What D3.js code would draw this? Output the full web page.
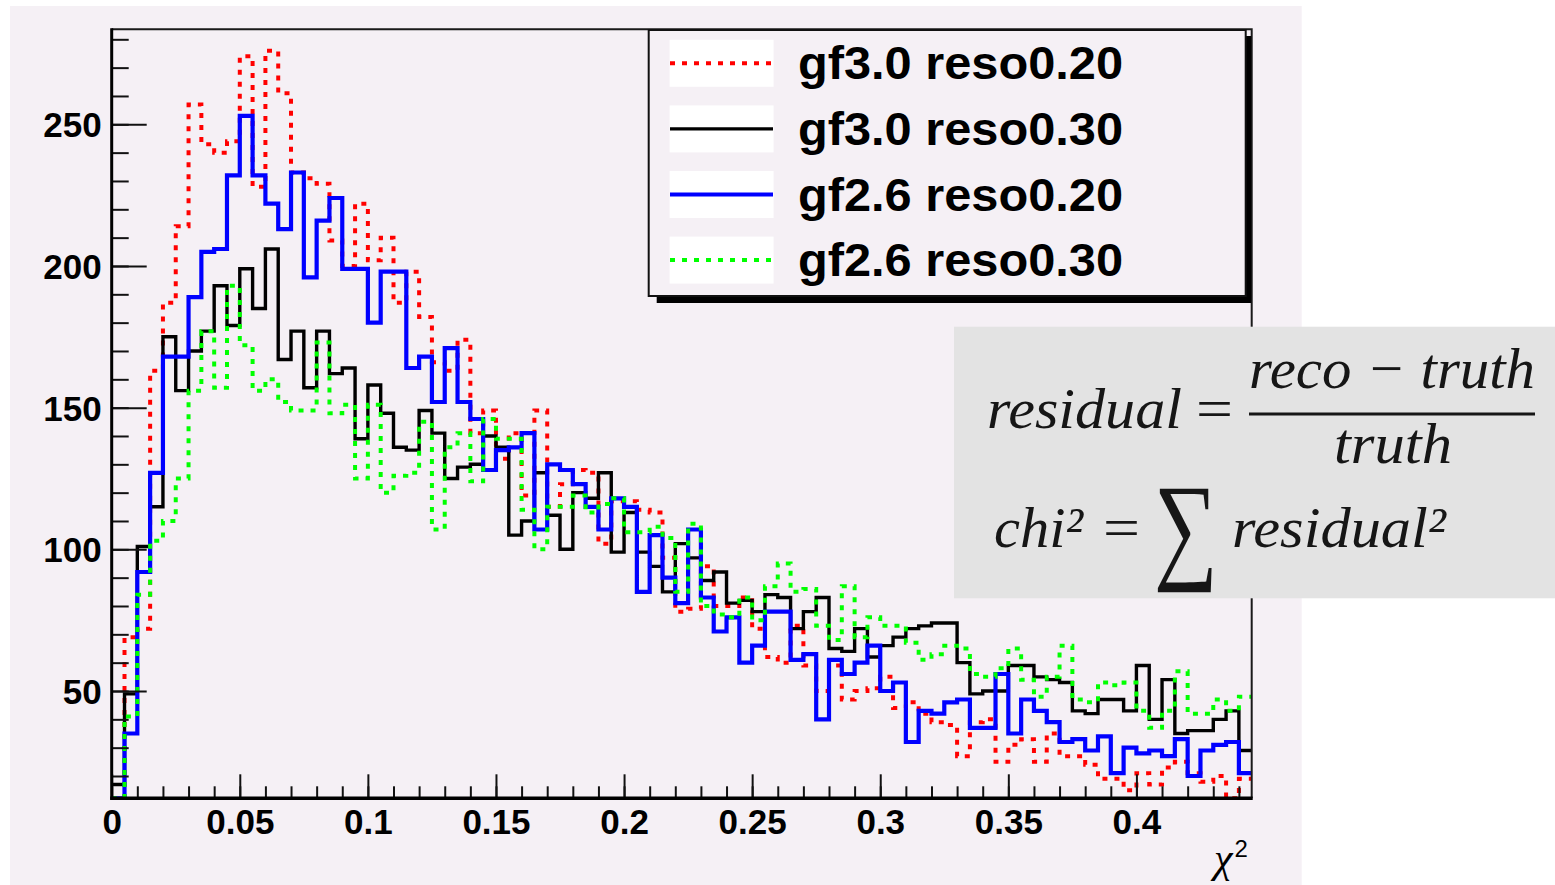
<!DOCTYPE html>
<html>
<head>
<meta charset="utf-8">
<script src="https://cdn.jsdelivr.net/npm/d3@7"></script>
<style>
  html, body { margin: 0; padding: 0; background: #ffffff; }
  svg { display: block; }
</style>
</head>
<body>
<div id="content"></div>
<script>
// histogram: 89 bins of 0.005 starting at 0
var binWidth = 0.005,
    binCount = 89;

var seriesNames = ["gf3.0 reso0.20", "gf3.0 reso0.30", "gf2.6 reso0.20", "gf2.6 reso0.30"];

var gf30reso020 = [5, 69, 72, 163, 187, 214, 257, 243, 240, 244,
  274, 228, 276, 261, 233, 231, 229, 209, 200, 222,
  202, 210, 187, 198, 182, 166, 163, 174, 141, 149,
  132, 141, 119, 149, 115, 123, 128, 127, 102, 117,
  117, 114, 113, 97, 78, 79, 94, 80, 80, 83,
  72, 62, 60, 73, 59, 50, 59, 47, 50, 51,
  55, 44, 46, 42, 39, 38, 27, 39, 40, 25,
  31, 33, 25, 35, 27, 27, 24, 19, 19, 15,
  21, 17, 23, 25, 21, 18, 20, 11, 19];

var gf30reso030 = [17, 49, 101, 115, 175, 156, 170, 177, 193, 179,
  199, 185, 206, 167, 177, 157, 177, 162, 164, 139,
  158, 148, 136, 135, 149, 141, 125, 129, 130, 140,
  136, 105, 110, 127, 112, 100, 120, 118, 127, 99,
  113, 99, 94, 85, 102, 97, 89, 92, 81, 82,
  78, 84, 83, 72, 78, 83, 65, 64, 72, 62,
  66, 69, 72, 73, 74, 74, 60, 49, 50, 50,
  59, 59, 55, 54, 53, 43, 42, 47, 47, 43,
  59, 40, 54, 35, 36, 36, 40, 43, 29];

var gf26reso020 = [5, 35, 92, 127, 168, 168, 189, 205, 206, 232,
  253, 232, 222, 213, 233, 196, 216, 224, 199, 199,
  180, 198, 198, 164, 168, 152, 171, 152, 146, 128,
  135, 136, 141, 107, 130, 128, 123, 115, 107, 118,
  115, 85, 105, 90, 81, 107, 83, 71, 76, 60,
  66, 78, 78, 61, 63, 40, 61, 56, 60, 66,
  50, 53, 32, 43, 42, 46, 47, 37, 37, 56,
  35, 47, 43, 39, 32, 33, 29, 34, 21, 30,
  28, 29, 27, 33, 20, 29, 31, 32, 21];

var gf26reso030 = [8, 41, 84, 103, 110, 125, 156, 177, 157, 193,
  172, 156, 160, 152, 149, 149, 173, 148, 151, 125,
  151, 120, 126, 127, 145, 107, 136, 141, 124, 146,
  139, 139, 114, 100, 115, 115, 119, 113, 116, 118,
  106, 106, 108, 104, 85, 109, 80, 77, 76, 83,
  75, 87, 95, 85, 86, 73, 68, 87, 69, 76,
  73, 73, 67, 61, 63, 66, 65, 56, 55, 58,
  65, 54, 48, 55, 66, 47, 46, 53, 52, 53,
  43, 37, 43, 57, 42, 42, 47, 43, 48];

var xTicks = [0, 0.05, 0.1, 0.15, 0.2, 0.25, 0.3, 0.35, 0.4];
var xTickLabels = ["0", "0.05", "0.1", "0.15", "0.2", "0.25", "0.3", "0.35", "0.4"];
var xMinorTicks = d3.range(0, 45).map(function (i) { return i / 100; });
var yTicks = [50, 100, 150, 200, 250];
var yMinorTicks = d3.range(2, 29).map(function (i) { return i * 10; });

var series = [
  { name: seriesNames[0], values: gf30reso020, color: "#ff0000", width: 4, dash: "5 7" },
  { name: seriesNames[1], values: gf30reso030, color: "#000000", width: 3.4, dash: null },
  { name: seriesNames[2], values: gf26reso020, color: "#0000ff", width: 4.2, dash: null },
  { name: seriesNames[3], values: gf26reso030, color: "#00ff00", width: 4, dash: "5 7" }
];

var W = 1555, H = 885,
    frame = { left: 111.7, right: 1251.7, top: 29.3, bottom: 798.3 },
    padFill = "#f5f0f5";

var svg = d3.select("#content").append("svg")
    .attr("width", W)
    .attr("height", H)
    .style("background", "#ffffff");

// canvas pad
svg.append("rect")
   .attr("x", 10).attr("y", 6)
   .attr("width", 1291.7).attr("height", H - 6)
   .attr("fill", padFill);

var x = d3.scaleLinear().domain([0, binWidth * binCount]).range([frame.left, frame.right]);
var y = d3.scaleLinear().domain([12.13, 283.53]).range([frame.bottom, frame.top]).clamp(true);

svg.append("clipPath").attr("id", "frameClip")
   .append("rect")
   .attr("x", frame.left).attr("y", frame.top - 2)
   .attr("width", frame.right - frame.left).attr("height", frame.bottom - frame.top + 2);

// histograms
var step = d3.line()
    .x(function (d) { return x(d[0]); })
    .y(function (d) { return y(d[1]); })
    .curve(d3.curveStepAfter);

function _histPoints(values) {
  var pts = values.map(function (v, i) { return [i * binWidth, v]; });
  pts.push([values.length * binWidth, values[values.length - 1]]);
  return pts;
}

svg.append("g").attr("clip-path", "url(#frameClip)")
   .selectAll("path").data(series).enter()
   .append("path")
   .attr("d", function (s) { return step(_histPoints(s.values)); })
   .attr("fill", "none")
   .attr("stroke", function (s) { return s.color; })
   .attr("stroke-width", function (s) { return s.width; })
   .attr("stroke-dasharray", function (s) { return s.dash; });

// frame top / right
svg.append("path")
   .attr("d", "M" + frame.left + "," + frame.top + "H" + frame.right + "V" + frame.bottom)
   .attr("fill", "none")
   .attr("stroke", "#1a1a1a")
   .attr("stroke-width", 2);

// axes
var labelFont = "'Liberation Sans', Arial, Helvetica, sans-serif";

var yMinor = svg.append("g")
    .attr("transform", "translate(" + frame.left + ",0)")
    .call(d3.axisLeft(y).tickValues(yMinorTicks).tickSize(-17).tickFormat(""));
var yMajor = svg.append("g")
    .attr("transform", "translate(" + frame.left + ",0)")
    .call(d3.axisLeft(y).tickValues(yTicks).tickSize(-35).tickPadding(10));

var xMinor = svg.append("g")
    .attr("transform", "translate(0," + frame.bottom + ")")
    .call(d3.axisBottom(x).tickValues(xMinorTicks).tickSize(-12).tickFormat(""));
var xMajor = svg.append("g")
    .attr("transform", "translate(0," + frame.bottom + ")")
    .call(d3.axisBottom(x).tickValues(xTicks).tickSize(-24).tickPadding(11)
      .tickFormat(function (d, i) { return xTickLabels[i]; }));

[yMinor, yMajor, xMinor, xMajor].forEach(function (g) {
  g.select(".domain").remove();
  g.selectAll(".tick line").attr("stroke", "#111").attr("stroke-width", 2);
  g.selectAll(".tick text")
   .attr("fill", "#000")
   .style("font-family", labelFont)
   .style("font-weight", "bold")
   .style("font-size", "35px");
});
yMajor.selectAll(".tick text").attr("dy", "0.36em");

svg.append("line")
   .attr("x1", frame.left).attr("x2", frame.left)
   .attr("y1", frame.top - 1).attr("y2", frame.bottom + 1.5)
   .attr("stroke", "#000").attr("stroke-width", 3);
svg.append("line")
   .attr("x1", frame.left - 1.5).attr("x2", frame.right + 1)
   .attr("y1", frame.bottom).attr("y2", frame.bottom)
   .attr("stroke", "#000").attr("stroke-width", 3.5);

// axis title
var title = svg.append("text")
    .attr("x", 1214).attr("y", 872)
    .style("font-family", "'Liberation Serif', 'Times New Roman', serif")
    .style("font-size", "42px")
    .style("font-style", "italic")
    .attr("fill", "#000");
title.append("tspan").text("χ");
title.append("tspan")
     .attr("dy", -15).attr("dx", 2)
     .style("font-family", labelFont)
     .style("font-style", "normal")
     .style("font-size", "24px")
     .text("2");

// legend
var legend = { x: 648.7, y: 30, w: 597, h: 266, row: 65.6, first: 63.3 };

svg.append("path")
   .attr("d", "M" + (legend.x + legend.w) + "," + (legend.y + 6) +
              "h5.5V" + (legend.y + legend.h + 7) +
              "H" + (legend.x + 8) + "V" + (legend.y + legend.h) +
              "H" + (legend.x + legend.w) + "Z")
   .attr("fill", "#000");

svg.append("rect")
   .attr("x", legend.x).attr("y", legend.y)
   .attr("width", legend.w).attr("height", legend.h)
   .attr("fill", padFill)
   .attr("stroke", "#111")
   .attr("stroke-width", 2);

var entries = svg.append("g").selectAll("g.entry").data(series).enter()
    .append("g")
    .attr("class", "entry")
    .attr("transform", function (d, i) { return "translate(0," + (legend.first + i * legend.row) + ")"; });

entries.append("rect")
       .attr("x", 669.6).attr("y", -23.5)
       .attr("width", 104).attr("height", 47)
       .attr("fill", "#ffffff");
entries.append("line")
       .attr("x1", 670).attr("x2", 773)
       .attr("stroke", function (s) { return s.color; })
       .attr("stroke-width", function (s) { return s.width; })
       .attr("stroke-dasharray", function (s) { return s.dash; });
entries.append("text")
       .attr("x", 798).attr("y", 16)
       .attr("textLength", 325)
       .attr("lengthAdjust", "spacingAndGlyphs")
       .style("font-family", labelFont)
       .style("font-weight", "bold")
       .style("font-size", "47px")
       .attr("fill", "#000")
       .text(function (s) { return s.name; });

// formula box
svg.append("rect")
   .attr("x", 954).attr("y", 326.7)
   .attr("width", W - 954).attr("height", 271.6)
   .attr("fill", "#e3e3e3");

var mathFont = "'Liberation Serif', 'Times New Roman', serif";
var formula = svg.append("g")
    .attr("fill", "#161616")
    .style("font-family", mathFont)
    .style("font-size", "58px");

function _math(txt, xPos, yPos, len, italic, size) {
  var t = formula.append("text")
      .attr("x", xPos).attr("y", yPos)
      .style("font-style", italic ? "italic" : "normal")
      .text(txt);
  if (len) t.attr("textLength", len).attr("lengthAdjust", "spacingAndGlyphs");
  if (size) t.style("font-size", size + "px");
  return t;
}

_math("residual", 987, 428, 195, true);
_math("=", 1196, 428, 37, false);
formula.append("line")
       .attr("x1", 1249).attr("x2", 1535)
       .attr("y1", 414).attr("y2", 414)
       .attr("stroke", "#161616").attr("stroke-width", 3);
_math("reco − truth", 1249, 388, 286, true);
_math("truth", 1334, 463, 118, true);
_math("chi²", 994, 547, 89, true);
_math("=", 1103, 547, 37, false);
_math("∑", 1154, 567, 64, false, 120);
_math("residual²", 1232, 547, 214, true);
</script>
</body>
</html>
